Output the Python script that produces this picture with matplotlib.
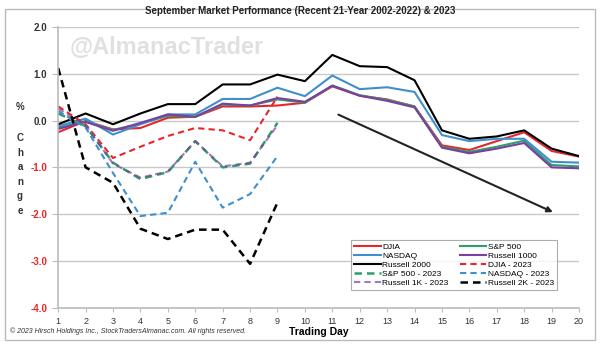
import numpy as np
import matplotlib.pyplot as plt
from matplotlib.patches import Rectangle

plt.rcParams['font.family'] = ['Liberation Sans', 'DejaVu Sans']

days = np.arange(1, 21)
days_2023 = np.arange(1, 10)

djia = [-0.25, -0.01, -0.19, -0.16, 0.06, 0.08, 0.30, 0.30, 0.32, 0.38,
        0.73, 0.53, 0.45, 0.30, -0.53, -0.63, -0.44, -0.25, -0.65, -0.77]
sp500 = [-0.15, -0.02, -0.20, -0.07, 0.10, 0.08, 0.34, 0.32, 0.45, 0.38,
         0.75, 0.54, 0.44, 0.30, -0.56, -0.67, -0.56, -0.43, -0.95, -0.98]
nasdaq = [-0.12, 0.04, -0.30, -0.08, 0.13, 0.13, 0.46, 0.46, 0.70, 0.52,
          0.96, 0.67, 0.71, 0.61, -0.31, -0.44, -0.39, -0.39, -0.88, -0.90]
russell1000 = [-0.18, -0.03, -0.22, -0.05, 0.13, 0.08, 0.36, 0.32, 0.48, 0.40,
               0.74, 0.53, 0.42, 0.28, -0.58, -0.70, -0.60, -0.48, -1.00, -1.02]
russell2000 = [-0.08, 0.15, -0.08, 0.15, 0.35, 0.35, 0.77, 0.77, 0.98, 0.84,
               1.40, 1.16, 1.14, 0.86, -0.21, -0.39, -0.34, -0.21, -0.60, -0.76]

djia_2023 = [0.30, -0.08, -0.80, -0.56, -0.33, -0.16, -0.21, -0.42, 0.51]
sp500_2023 = [0.15, -0.12, -0.90, -1.25, -1.10, -0.44, -1.00, -0.92, -0.05]
nasdaq_2023 = [0.20, -0.15, -1.12, -2.04, -1.97, -0.88, -1.86, -1.57, -0.76]
r1k_2023 = [0.25, -0.10, -0.92, -1.22, -1.09, -0.44, -0.98, -0.90, -0.10]
r2k_2023 = [1.12, -1.00, -1.33, -2.31, -2.53, -2.33, -2.33, -3.06, -1.75]

fig = plt.figure(figsize=(6, 3.44), dpi=100)
ax = fig.add_axes([0.097, 0.105, 0.868, 0.817])

red = '#e8262a'
green = '#2e9e6b'
blue = '#3f8fcc'
purple = '#7b3fa0'

ax.plot(days, djia, color=red, lw=1.5, label='DJIA')
ax.plot(days, sp500, color=green, lw=1.5, label='S&P 500')
ax.plot(days, nasdaq, color=blue, lw=1.5, label='NASDAQ')
ax.plot(days, russell1000, color=purple, lw=1.5, label='Russell 1000')
ax.plot(days, russell2000, color='black', lw=1.5, label='Russell 2000')
ax.plot(days_2023, djia_2023, color=red, lw=1.5, ls=(0, (3, 2)), label='DJIA - 2023')
ax.plot(days_2023, sp500_2023, color=green, lw=1.8, ls=(0, (3, 2)), label='S&P 500 - 2023')
ax.plot(days_2023, nasdaq_2023, color=blue, lw=1.5, ls=(0, (3, 2)), label='NASDAQ - 2023')
ax.plot(days_2023, r1k_2023, color=purple, lw=1.5, ls=(0, (3, 2)), alpha=0.7, label='Russell 1K - 2023')
ax.plot(days_2023, r2k_2023, color='black', lw=1.8, ls=(0, (3, 2)), label='Russell 2K - 2023')

# trend arrow
ax.annotate('', xy=(19.14, -1.98), xytext=(11.13, 0.15),
            arrowprops=dict(arrowstyle='-|>', color='#222222', lw=1.5, mutation_scale=8))

ax.set_xlim(1, 20)
ax.set_ylim(-4, 2)
ax.set_xticks(days)
ax.set_yticks(np.arange(-4, 3, 1))
ax.set_yticklabels([f'{v:.1f}' for v in np.arange(-4, 3, 1)])
for lab, v in zip(ax.get_yticklabels(), np.arange(-4, 3, 1)):
    lab.set_color('#e8262a' if v < 0 else '#333333')
    lab.set_fontweight('bold')
ax.tick_params(axis='y', labelsize=7, length=4, color='#bbbbbb', pad=4)
ax.tick_params(axis='x', labelsize=6.5, length=3, color='#bbbbbb', labelcolor='#333333')
ax.grid(axis='y', color='#c8c8c8', lw=1)
ax.set_axisbelow(True)
for s in ['top', 'right']:
    ax.spines[s].set_visible(False)
for s in ['left', 'bottom']:
    ax.spines[s].set_color('#bbbbbb')
    ax.spines[s].set_linewidth(1.2)

ax.set_xlabel('Trading Day', fontsize=7.5, fontweight='bold', labelpad=1)

# vertical stacked y label
fig.text(20 / 600, 1 - 107 / 344, '%', fontsize=7, fontweight='bold', ha='center', va='center', color='#333333')
for i, ch in enumerate('Change'):
    fig.text(20 / 600, 1 - (138 + i * 14.5) / 344, ch, fontsize=7, fontweight='bold',
             ha='center', va='center', color='#333333')

fig.text(0.5, 1 - 11 / 344, 'September Market Performance (Recent 21-Year 2002-2022) & 2023',
         fontsize=7, fontweight='bold', ha='center', va='center', color='#222222')

ax.text(0.022, 0.925, '@AlmanacTrader', transform=ax.transAxes, fontsize=17, fontweight='bold',
        color='#e0e0e0', ha='left', va='center')

fig.text(10 / 600, 1 - 331 / 344,
         '\u00a9 2023 Hirsch Holdings Inc., StockTradersAlmanac.com. All rights reserved.',
         fontsize=5, style='italic', ha='left', va='center', color='#333333')

h, l = ax.get_legend_handles_labels()
order = [0, 2, 4, 6, 8, 1, 3, 5, 7, 9]
leg = ax.legend([h[i] for i in order], [l[i] for i in order], ncol=2,
                loc='lower left', bbox_to_anchor=(0.555, 0.05, 0.41, 0.18), mode='expand',
                fontsize=6, frameon=True, fancybox=False, edgecolor='#999999',
                handlelength=3.2, handletextpad=0.2, labelspacing=0.15, borderpad=0.3,
                columnspacing=1.0)
leg.get_frame().set_linewidth(0.8)

fig.add_artist(Rectangle((0.008, 0.012), 0.984, 0.962, transform=fig.transFigure,
                         fill=False, edgecolor='#bbbbbb', lw=1))

fig.savefig('out.png', dpi=100)
